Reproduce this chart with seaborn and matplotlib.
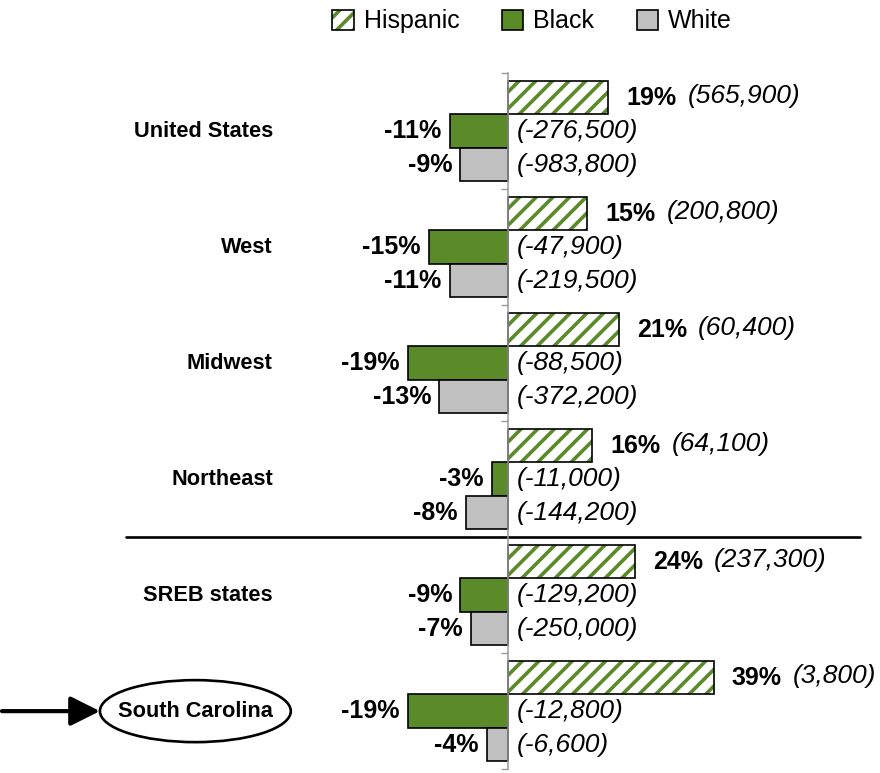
import numpy as np
import pandas as pd
import matplotlib
matplotlib.use("Agg")
import matplotlib.pyplot as plt
import seaborn as sns
from matplotlib.patches import Ellipse, FancyArrowPatch
from matplotlib.colors import to_rgba
from matplotlib import font_manager

regions = ["United States", "West", "Midwest", "Northeast", "SREB states", "South Carolina"]
groups = ["Hispanic", "Black", "White"]
hispanic_pct = [19, 15, 21, 16, 24, 39]
black_pct = [-11, -15, -19, -3, -9, -19]
white_pct = [-9, -11, -13, -8, -7, -4]
hispanic_n = ["565,900", "200,800", "60,400", "64,100", "237,300", "3,800"]
black_n = ["-276,500", "-47,900", "-88,500", "-11,000", "-129,200", "-12,800"]
white_n = ["-983,800", "-219,500", "-372,200", "-144,200", "-250,000", "-6,600"]

GREEN = "#5b8a29"
GRAY = "#c0c0c0"
AXGRAY = "#9a9a9a"

sns.set_theme(style="white")
plt.rcParams["font.family"] = ["Liberation Sans", "DejaVu Sans"]
plt.rcParams["text.color"] = "black"
plt.rcParams["hatch.linewidth"] = 2.6

# narrow font for region labels if available
try:
    font_manager.findfont(font_manager.FontProperties(family="Liberation Sans Narrow", weight="bold"),
                          fallback_to_default=False)
    region_family = ["Liberation Sans Narrow", "Liberation Sans"]
    region_size = 18.5
except Exception:
    region_family = ["Liberation Sans", "DejaVu Sans"]
    region_size = 15.7

df = pd.DataFrame({
    "region": regions * 3,
    "group": [g for g in groups for _ in regions],
    "pct": hispanic_pct + black_pct + white_pct,
})

fig = plt.figure(figsize=(8.8, 7.73), dpi=100)
ax = fig.add_axes([0, 0.005, 1, 0.9004])
sns.barplot(data=df, y="region", x="pct", hue="group", order=regions, hue_order=groups,
            palette={"Hispanic": "white", "Black": GREEN, "White": GRAY},
            orient="h", width=0.865, edgecolor="black", linewidth=1.2, saturation=1,
            errorbar=None, legend=False, ax=ax, zorder=2)

for p in ax.containers[0]:
    p.set_hatch("//")
    if hasattr(p, "set_hatchcolor"):
        p.set_hatchcolor(GREEN)
    else:
        p._hatch_color = to_rgba(GREEN)

pct_lists = [hispanic_pct, black_pct, white_pct]
n_lists = [hispanic_n, black_n, white_n]
for cont, pcts, ns in zip(ax.containers, pct_lists, n_lists):
    for bar, v, n in zip(cont, pcts, ns):
        yc = bar.get_y() + bar.get_height() / 2
        xend = bar.get_width()
        if v > 0:
            t = ax.annotate(f"{v}%", xy=(xend, yc), xytext=(13, 0), textcoords="offset points",
                            ha="left", va="center", fontsize=18, fontweight="bold")
            ax.annotate(f"({n})", xy=(1, 0.5), xycoords=t, xytext=(8, 1.5),
                        textcoords="offset points", ha="left", va="center",
                        fontsize=19, fontstyle="italic")
        else:
            ax.annotate(f"{v}%", xy=(xend, yc), xytext=(-6, 0), textcoords="offset points",
                        ha="right", va="center", fontsize=18, fontweight="bold")
            ax.annotate(f"({n})", xy=(0, yc), xytext=(6, 0), textcoords="offset points",
                        ha="left", va="center", fontsize=19, fontstyle="italic")

label_texts = []
for i, r in enumerate(regions):
    label_texts.append(ax.text(0.31, i, r, transform=ax.get_yaxis_transform(), ha="right",
                               va="center", fontsize=region_size, fontweight="bold",
                               family=region_family))

ax.set_xlim(-96.2, 70.45)
ax.set_ylim(len(regions) - 0.5, -0.5)
ax.set_xticks([])
ax.set_yticks([])
ax.set_yticks(np.arange(len(regions) + 1) - 0.5, minor=True)
ax.set_yticklabels([], minor=True)
ax.tick_params(axis="y", which="minor", left=True, length=5, width=1, color=AXGRAY, direction="out")
ax.set_xlabel("")
ax.set_ylabel("")
for s in ["top", "right", "bottom"]:
    ax.spines[s].set_visible(False)
ax.spines["left"].set_position(("data", 0))
ax.spines["left"].set_color(AXGRAY)
ax.spines["left"].set_linewidth(1.1)
ax.spines["left"].set_zorder(3)

ax.axhline(3.5, xmin=126 / 880, xmax=860 / 880, color="black", lw=1.9, zorder=3)

handles = [c.patches[0] for c in ax.containers]
fig.legend(handles, groups, loc="upper center", bbox_to_anchor=(532 / 880, 0.996), ncol=3,
           frameon=False, fontsize=18, handlelength=0.85, handleheight=0.85,
           handletextpad=0.4, columnspacing=1.7, borderaxespad=0, borderpad=0.25)

# ellipse + arrow around South Carolina
fig.canvas.draw()
bb = label_texts[-1].get_window_extent()
W, H = fig.bbox.width, fig.bbox.height
cx, cy = (bb.x0 + bb.x1) / 2, (bb.y0 + bb.y1) / 2
ew, eh = bb.width + 36, 62
fig.add_artist(Ellipse((cx / W, cy / H), ew / W, eh / H, transform=fig.transFigure,
                       facecolor="none", edgecolor="black", lw=1.9))
fig.add_artist(FancyArrowPatch(
    (2 / W, cy / H), ((cx - ew / 2) / W, cy / H), transform=fig.transFigure,
    arrowstyle="-|>", mutation_scale=45, lw=3, color="black", shrinkA=0, shrinkB=0))

fig.savefig("out.png", dpi=100)
